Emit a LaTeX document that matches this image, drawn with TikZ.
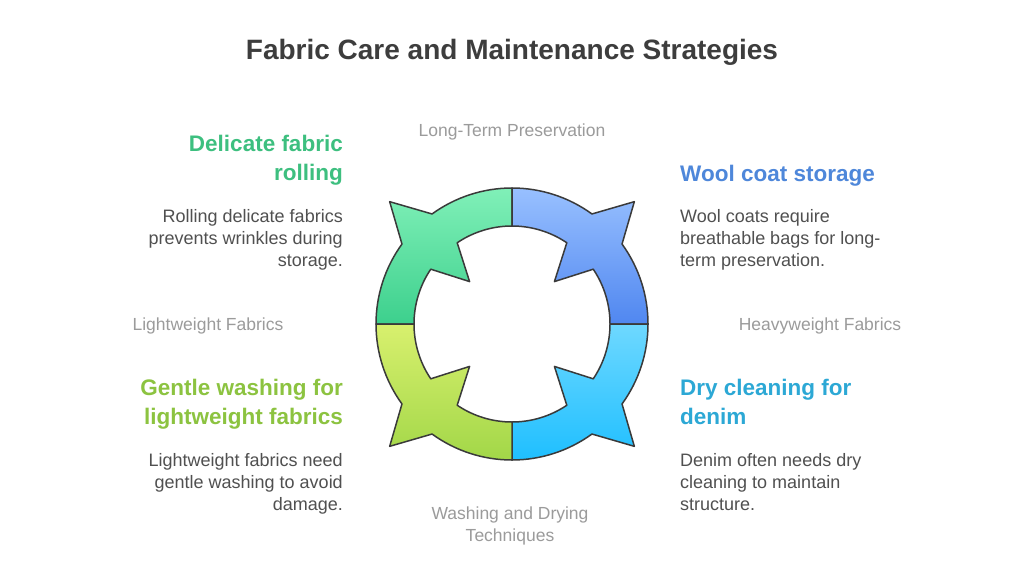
\documentclass[tikz,border=0pt]{standalone}
\usepackage{fontspec}
\setmainfont{Liberation Sans}
\definecolor{titlec}{HTML}{3D3D3D}
\definecolor{bodyc}{HTML}{505050}
\definecolor{greyc}{HTML}{9B9B9B}
\definecolor{greenh}{HTML}{3DBF7F}
\definecolor{blueh}{HTML}{4E87DA}
\definecolor{limeh}{HTML}{8CC340}
\definecolor{cyanh}{HTML}{2CA8D5}
\definecolor{ringline}{HTML}{3A3A3A}
\definecolor{tlT}{HTML}{80F0B8}\definecolor{tlB}{HTML}{3DD08D}
\definecolor{trT}{HTML}{98C0FF}\definecolor{trB}{HTML}{5087F0}
\definecolor{brT}{HTML}{6ED8FF}\definecolor{brB}{HTML}{1FBFFF}
\definecolor{blT}{HTML}{D8F06E}\definecolor{blB}{HTML}{A2D748}
\tikzset{
  titletext/.style={font=\fontsize{28}{34}\selectfont\bfseries, text=titlec, inner sep=0pt},
  headtext/.style={font=\fontsize{22.5}{29}\selectfont\bfseries, inner sep=0pt},
  bodytext/.style={font=\fontsize{18}{22}\selectfont, text=bodyc, inner sep=0pt},
  axistext/.style={font=\fontsize{17.5}{22}\selectfont, text=greyc, inner sep=0pt, align=center},
  quad/.style={draw=ringline, line width=1.5pt, line join=round},
}
\begin{document}
\begin{tikzpicture}[x=1pt,y=-1pt]
\useasboundingbox (0,0) rectangle (1024,575);
\fill[white] (0,0) rectangle (1024,575);
% ring quadrants
\coordinate (c) at (512,324);
\def\Ro{136}\def\Ri{98}
\foreach \a/\ct/\cb/\nm in {90/tlT/tlB/qtl, 0/trT/trB/qtr, 270/brT/brB/qbr, 180/blT/blB/qbl}{
  \path[quad, top color=\ct, bottom color=\cb, shift={(c)}]
    ({-\a}:\Ro) arc[start angle={-\a}, end angle={-(\a+36)}, radius=\Ro]
    -- ({-(\a+45)}:173) -- ({-(\a+54)}:\Ro)
    arc[start angle={-(\a+54)}, end angle={-(\a+90)}, radius=\Ro]
    -- ({-(\a+90)}:\Ri)
    arc[start angle={-(\a+90)}, end angle={-(\a+56)}, radius=\Ri]
    -- ({-(\a+45)}:60) -- ({-(\a+34)}:\Ri)
    arc[start angle={-(\a+34)}, end angle={-\a}, radius=\Ri]
    -- cycle;
}
% title
\node[titletext, anchor=base] (title) at (512,60) {Fabric Care and Maintenance Strategies};
% axis labels
\node[axistext, anchor=base] (top) at (512,136) {Long-Term Preservation};
\node[axistext, anchor=base] (left) at (208,330) {Lightweight Fabrics};
\node[axistext, anchor=base] (right) at (820,330) {Heavyweight Fabrics};
\node[axistext, anchor=north] (bottom) at (510,507) {Washing and Drying\\Techniques};
% top-left
\node[headtext, text=greenh, align=right, anchor=north east] (h1) at (343,135) {Delicate fabric\\rolling};
\node[bodytext, align=right, anchor=north east] (b1) at (343,209) {Rolling delicate fabrics\\prevents wrinkles during\\storage.};
% top-right
\node[headtext, text=blueh, align=left, anchor=north west] (h2) at (680,165) {Wool coat storage};
\node[bodytext, align=left, anchor=north west] (b2) at (680,209) {Wool coats require\\breathable bags for long-\\term preservation.};
% bottom-left
\node[headtext, text=limeh, align=right, anchor=north east] (h3) at (343,379) {Gentle washing for\\lightweight fabrics};
\node[bodytext, align=right, anchor=north east] (b3) at (343,453) {Lightweight fabrics need\\gentle washing to avoid\\damage.};
% bottom-right
\node[headtext, text=cyanh, align=left, anchor=north west] (h4) at (680,379) {Dry cleaning for\\denim};
\node[bodytext, align=left, anchor=north west] (b4) at (680,453) {Denim often needs dry\\cleaning to maintain\\structure.};
\end{tikzpicture}
\end{document}
